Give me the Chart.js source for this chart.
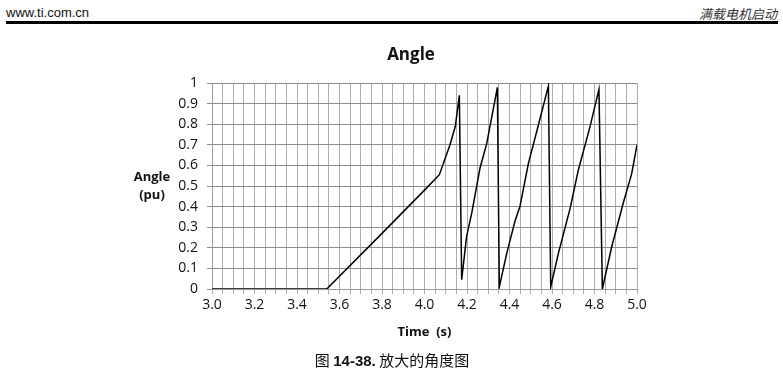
<!DOCTYPE html>
<html>
<head>
<meta charset="utf-8">
<script src="https://cdn.jsdelivr.net/npm/chart.js@4/dist/chart.umd.min.js"></script>
<style>
  html, body { margin: 0; padding: 0; background: #fff; }
  #page { position: relative; width: 783px; height: 374px; overflow: hidden; }
  #chart { position: absolute; left: 0; top: 0; }
  .site { position: absolute; left: 6px; top: 5px; font: 13px "Liberation Sans", Arial, sans-serif; color: #111; }
  .section { position: absolute; right: 6px; top: 4px; font: italic 13px "Noto Sans CJK SC", sans-serif; color: #333; }
  .rule { position: absolute; left: 6px; right: 5px; top: 21px; height: 3px; background: #000; }
  .caption { position: absolute; left: 0; width: 784px; top: 349px; text-align: center; font: 15px "Noto Sans CJK SC", sans-serif; color: #111; }
  .caption b { font-family: "Liberation Sans", Arial, sans-serif; }
</style>
</head>
<body>
<div id="page">
  <div class="site">www.ti.com.cn</div>
  <div class="section">满载电机启动</div>
  <div class="rule"></div>
  <canvas id="chart" width="783" height="374"></canvas>
  <div class="caption">图 <b>14-38.</b> 放大的角度图</div>
</div>
<script>
const timeValues = [3.0, 3.54, 3.8, 4.0, 4.07, 4.12, 4.145, 4.164, 4.175, 4.198, 4.222, 4.261, 4.293, 4.343,
  4.352, 4.387, 4.426, 4.449, 4.489, 4.536, 4.583, 4.594, 4.63, 4.685, 4.724, 4.779, 4.821,
  4.837, 4.881, 4.935, 4.975, 5.0]
const angleValues = [0, 0, 0.27, 0.48, 0.555, 0.70, 0.79, 0.94, 0.045, 0.254, 0.367, 0.586, 0.707, 0.979,
  0.01, 0.173, 0.33, 0.40, 0.61, 0.796, 0.985, 0.01, 0.173, 0.39, 0.578, 0.788, 0.969,
  0.0, 0.205, 0.416, 0.56, 0.70]
const xTickLabels = ['3.0', '3.2', '3.4', '3.6', '3.8', '4.0', '4.2', '4.4', '4.6', '4.8', '5.0']
const yTickLabels = ['0', '0.1', '0.2', '0.3', '0.4', '0.5', '0.6', '0.7', '0.8', '0.9', '1']

const tickFont = { family: '"Open Sans", sans-serif', size: 14 }
const boldFont = { family: '"Open Sans", sans-serif', size: 13, weight: 'bold' }

// chart title and horizontal y title, placed like the Excel original
const titles = {
  id: 'titles',
  afterDraw(chart) {
    const ctx = chart.ctx
    ctx.save()
    ctx.fillStyle = '#111'
    ctx.textAlign = 'center'
    ctx.textBaseline = 'middle'
    ctx.font = 'bold 17px "Open Sans", sans-serif'
    ctx.fillText('Angle', 411, 55)
    ctx.font = 'bold 13px "Open Sans", sans-serif'
    ctx.fillText('Angle', 152, 177)
    ctx.fillText('(pu)', 152, 195)
    ctx.restore()
  }
}

const points = timeValues.map((t, i) => ({ x: t, y: angleValues[i] }))

new Chart(document.getElementById('chart').getContext('2d'), {
  type: 'scatter',
  data: {
    datasets: [{
      data: points,
      showLine: true,
      borderColor: '#000',
      borderWidth: 1.5,
      pointRadius: 0,
      tension: 0
    }]
  },
  options: {
    responsive: false,
    animation: false,
    layout: { padding: { left: 160, right: 146, top: 83, bottom: 30 } },
    plugins: {
      legend: { display: false },
      tooltip: { enabled: false },
      title: { display: false }
    },
    scales: {
      x: {
        type: 'linear',
        min: 3,
        max: 5,
        afterFit: s => { s.height = 55 },
        afterBuildTicks: s => {
          s.ticks = []
          for (let i = 0; i <= 40; i++) s.ticks.push({ value: 3 + i * 0.05 })
        },
        ticks: {
          autoSkip: false,
          maxRotation: 0,
          padding: 3,
          color: '#111',
          font: tickFont,
          callback: (v, i) => i % 4 === 0 ? xTickLabels[i / 4] : ''
        },
        grid: { color: '#adadad', lineWidth: 1, tickLength: 5 },
        border: { color: '#999' },
        title: { display: true, text: 'Time  (s)', color: '#111', font: boldFont, padding: { top: 0, bottom: 4 } }
      },
      y: {
        min: 0,
        max: 1,
        afterFit: s => { s.width = 52 },
        afterBuildTicks: s => {
          s.ticks = yTickLabels.map((l, i) => ({ value: i / 10 }))
        },
        ticks: {
          padding: 9,
          color: '#111',
          font: tickFont,
          callback: (v, i) => yTickLabels[i]
        },
        grid: { color: '#8c8c8c', lineWidth: 1, tickLength: 5 },
        border: { color: '#999' }
      }
    }
  },
  plugins: [titles]
})
</script>
</body>
</html>
